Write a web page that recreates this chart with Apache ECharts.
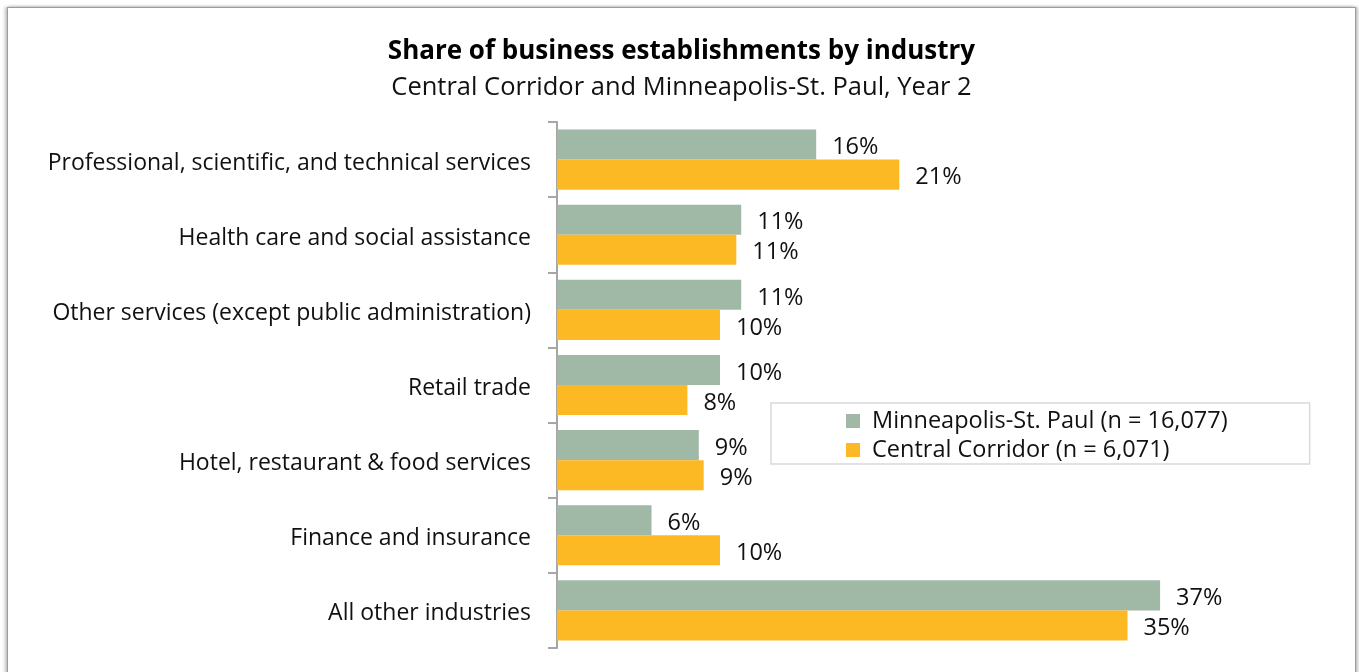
<!DOCTYPE html>
<html>
<head>
<meta charset="utf-8">
<script src="https://cdn.jsdelivr.net/npm/echarts@6/dist/echarts.min.js"></script>
<style>
  html, body { margin: 0; padding: 0; background: #ffffff; overflow: hidden; }
  #frame {
    position: absolute; left: 7px; top: 7px; width: 1347px; height: 700px;
    border: 1px solid #9c9c9c;
    box-shadow: -2px 0 3px rgba(0,0,0,0.25), 2px 0 3px rgba(0,0,0,0.25);
    background: #ffffff;
  }
  #chart { position: absolute; left: 8px; top: 0; width: 1347px; height: 672px; }
</style>
</head>
<body>
<div id="frame"></div>
<div id="chart"></div>
<script>
// Industry categories, listed top to bottom
const categories = [
  'Professional, scientific, and technical services',
  'Health care and social assistance',
  'Other services (except public administration)',
  'Retail trade',
  'Hotel, restaurant & food services',
  'Finance and insurance',
  'All other industries'
];

// Share of establishments (%) per industry
const metroShare = [15.9, 11.3, 11.3, 10.0, 8.7, 5.8, 37.0];
const corridorShare = [21.0, 11.0, 10.0, 8.0, 9.0, 10.0, 35.0];

const seriesNames = [
  'Minneapolis-St. Paul (n = 16,077)',
  'Central Corridor (n = 6,071)'
];

const FONT = '"Open Sans", Lato, sans-serif';

const chart = echarts.init(document.getElementById('chart'), null, { renderer: 'canvas' });

const labelStyle = {
  show: true,
  position: 'right',
  distance: 16,
  offset: [0, 3],
  color: '#111111',
  fontFamily: FONT,
  fontSize: 23.5,
  formatter: p => Math.round(p.value) + '%'
};

chart.setOption({
  animation: false,
  backgroundColor: 'transparent',
  title: {
    text: 'Share of business establishments by industry',
    subtext: 'Central Corridor and Minneapolis-St. Paul, Year 2',
    left: 'center',
    top: 34,
    itemGap: 10,
    textStyle: { fontFamily: FONT, fontSize: 26, fontWeight: 'bold', color: '#000000' },
    subtextStyle: { fontFamily: FONT, fontSize: 25.5, color: '#111111' }
  },
  legend: {
    orient: 'vertical',
    left: 763,
    top: 403,
    padding: [6, 82, 2, 75],
    itemGap: 5,
    itemWidth: 14,
    itemHeight: 14,
    icon: 'rect',
    backgroundColor: '#ffffff',
    borderColor: '#d9d9d9',
    borderWidth: 1.5,
    textStyle: { fontFamily: FONT, fontSize: 23.5, color: '#111111', padding: [0, 0, 0, 7] },
    data: seriesNames
  },
  grid: {
    left: 549,
    top: 122,
    width: 652,
    height: 526,
    containLabel: false
  },
  xAxis: {
    type: 'value',
    min: 0,
    max: 40,
    show: false
  },
  yAxis: {
    type: 'category',
    data: categories,
    inverse: true,
    axisLine: { show: true, lineStyle: { color: '#a6a6a6', width: 2 } },
    axisTick: { show: true, length: 9, lineStyle: { color: '#a6a6a6', width: 2 } },
    axisLabel: {
      margin: 26, fontFamily: FONT, fontSize: 23, color: '#111111',
      formatter: v => '{c|' + v + '}',
      rich: { c: { fontFamily: FONT, fontSize: 23, color: '#111111', padding: [7, 0, 0, 0] } }
    },
    splitLine: { show: false }
  },
  series: [
    {
      name: seriesNames[0],
      type: 'bar',
      data: metroShare,
      barGap: '0%',
      barCategoryGap: '20%',
      itemStyle: { color: '#a0b8a6' },
      label: labelStyle
    },
    {
      name: seriesNames[1],
      type: 'bar',
      data: corridorShare,
      barGap: '0%',
      barCategoryGap: '20%',
      itemStyle: { color: '#fdb924' },
      label: labelStyle
    }
  ]
});
</script>
</body>
</html>
